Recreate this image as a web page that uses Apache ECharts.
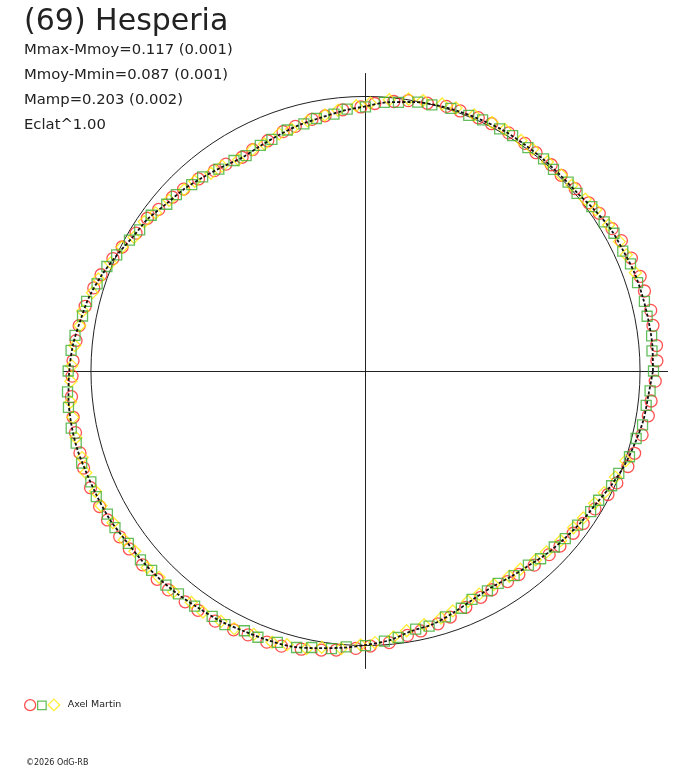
<!DOCTYPE html>
<html>
<head>
<meta charset="utf-8">
<script src="https://cdn.jsdelivr.net/npm/echarts@6/dist/echarts.min.js"></script>
<style>
  html, body { margin: 0; padding: 0; background: #fff; }
  #chart { width: 688px; height: 768px; }
</style>
</head>
<body>
<div id="chart"></div>
<script>
// polar light curve: angle = phase in degrees, radius relative to the reference circle (1.0)
const curveAngle = [0, 5, 10, 15, 20, 25, 30, 35, 40, 45, 50, 55, 60, 65, 70, 75, 80, 85, 90, 95,
    100, 105, 110, 115, 120, 125, 130, 135, 140, 145, 150, 155, 160, 165, 170, 175, 180, 185, 190, 195,
    200, 205, 210, 215, 220, 225, 230, 235, 240, 245, 250, 255, 260, 265, 270, 275, 280, 285, 290, 295,
    300, 305, 310, 315, 320, 325, 330, 335, 340, 345, 350, 355];
const curveR = [1.047, 1.049, 1.047, 1.045, 1.043, 1.036, 1.032, 1.020, 1.008, 1.006,
    1.007, 1.008, 1.010, 1.007, 1.005, 1.002, 0.995, 0.983, 0.964, 0.951,
    0.937, 0.928, 0.916, 0.905, 0.898, 0.908, 0.921, 0.936, 0.947, 0.967,
    0.978, 0.999, 1.022, 1.042, 1.055, 1.070, 1.079, 1.086, 1.089, 1.088,
    1.082, 1.079, 1.077, 1.070, 1.068, 1.066, 1.062, 1.056, 1.053, 1.046,
    1.043, 1.039, 1.025, 1.012, 0.998, 0.985, 0.962, 0.954, 0.937, 0.920,
    0.912, 0.917, 0.925, 0.938, 0.948, 0.959, 0.969, 0.987, 1.004, 1.016,
    1.028, 1.034];

const redAngle = [2, 5, 9, 12, 16, 19, 23, 27, 30, 34, 37, 41, 45, 48, 52, 55, 59, 63, 66, 70,
    73, 77, 81, 84, 88, 91, 95, 99, 102, 106, 109, 113, 117, 120, 124, 127, 131, 135, 138, 142,
    145, 149, 153, 156, 160, 163, 167, 171, 174, 178, 181, 185, 189, 192, 196, 199, 203, 207, 210, 214,
    217, 221, 225, 228, 232, 235, 239, 243, 246, 250, 253, 257, 261, 264, 268, 271, 275, 279, 282, 286,
    289, 293, 297, 300, 304, 307, 311, 315, 318, 322, 325, 329, 333, 336, 340, 343, 347, 351, 354, 358];
const redR = [1.062, 1.064, 1.060, 1.062, 1.057, 1.058, 1.052, 1.046, 1.037, 1.027,
    1.018, 1.012, 1.008, 1.011, 1.009, 1.012, 1.012, 1.011, 1.010, 1.008,
    1.008, 1.001, 0.997, 0.987, 0.975, 0.962, 0.955, 0.941, 0.937, 0.927,
    0.922, 0.911, 0.905, 0.899, 0.909, 0.914, 0.927, 0.937, 0.946, 0.956,
    0.970, 0.975, 0.995, 1.007, 1.025, 1.035, 1.048, 1.056, 1.060, 1.066,
    1.069, 1.075, 1.078, 1.080, 1.082, 1.086, 1.088, 1.087, 1.085, 1.080,
    1.077, 1.076, 1.073, 1.073, 1.067, 1.064, 1.063, 1.058, 1.052, 1.051,
    1.048, 1.040, 1.029, 1.022, 1.011, 1.002, 0.993, 0.975, 0.968, 0.958,
    0.948, 0.935, 0.925, 0.920, 0.925, 0.928, 0.937, 0.946, 0.953, 0.960,
    0.968, 0.975, 0.991, 1.002, 1.017, 1.025, 1.034, 1.043, 1.046, 1.056];

const greenAngle = [0, 4, 7, 11, 14, 18, 22, 25, 29, 32, 36, 40, 43, 47, 50, 54, 58, 61, 65, 68,
    72, 76, 79, 83, 86, 90, 94, 97, 101, 104, 108, 112, 115, 119, 122, 126, 130, 133, 137, 140,
    144, 148, 151, 155, 158, 162, 166, 169, 173, 176, 180, 184, 187, 191, 194, 198, 202, 205, 209, 212,
    216, 220, 223, 227, 230, 234, 238, 241, 245, 248, 252, 256, 259, 263, 266, 270, 274, 277, 281, 284,
    288, 292, 295, 299, 302, 306, 310, 313, 317, 320, 324, 328, 331, 335, 338, 342, 346, 349, 353, 356];
const greenR = [1.049, 1.046, 1.050, 1.045, 1.047, 1.042, 1.041, 1.034, 1.035, 1.025,
    1.019, 1.006, 1.009, 1.004, 1.009, 1.006, 1.011, 1.008, 1.009, 1.004,
    1.006, 0.999, 0.998, 0.986, 0.981, 0.962, 0.956, 0.943, 0.937, 0.928,
    0.923, 0.910, 0.907, 0.897, 0.904, 0.909, 0.923, 0.928, 0.942, 0.945,
    0.965, 0.970, 0.983, 1.000, 1.016, 1.028, 1.047, 1.050, 1.066, 1.075,
    1.083, 1.088, 1.090, 1.092, 1.086, 1.087, 1.079, 1.082, 1.075, 1.076,
    1.068, 1.070, 1.065, 1.066, 1.060, 1.059, 1.054, 1.056, 1.044, 1.046,
    1.039, 1.038, 1.026, 1.019, 1.007, 1.000, 0.986, 0.978, 0.958, 0.958,
    0.942, 0.932, 0.918, 0.916, 0.912, 0.921, 0.923, 0.935, 0.940, 0.950,
    0.955, 0.967, 0.971, 0.989, 0.995, 1.011, 1.016, 1.028, 1.030, 1.039];

const yellowAngle = [20, 24, 27, 31, 35, 38, 42, 45, 49, 53, 56, 60, 63, 67, 71, 74, 78, 81, 85, 89,
    92, 96, 99, 103, 107, 110, 114, 117, 121, 125, 128, 132, 135, 139, 143, 146, 150, 153, 157, 161,
    164, 168, 171, 175, 179, 182, 186, 189, 193, 197, 200, 204, 207, 211, 215, 218, 222, 225, 229, 233,
    236, 240, 243, 247, 251, 254, 258, 261, 265, 269, 272, 276, 279, 283, 287, 290, 294, 297, 301, 305,
    308, 312, 315, 319, 323, 326, 330, 333, 337, 341];
const yellowR = [1.046, 1.040, 1.038, 1.033, 1.024, 1.016, 1.011, 1.009, 1.010, 1.012,
    1.013, 1.016, 1.016, 1.013, 1.013, 1.012, 1.007, 1.003, 0.992, 0.976,
    0.967, 0.955, 0.944, 0.935, 0.921, 0.919, 0.905, 0.905, 0.898, 0.911,
    0.914, 0.930, 0.934, 0.948, 0.957, 0.972, 0.974, 0.995, 1.008, 1.029,
    1.035, 1.053, 1.054, 1.063, 1.070, 1.074, 1.080, 1.079, 1.082, 1.079,
    1.084, 1.077, 1.081, 1.073, 1.073, 1.066, 1.070, 1.063, 1.066, 1.055,
    1.059, 1.053, 1.053, 1.042, 1.045, 1.037, 1.034, 1.019, 1.015, 0.998,
    0.990, 0.974, 0.958, 0.948, 0.941, 0.930, 0.918, 0.912, 0.908, 0.913,
    0.916, 0.926, 0.932, 0.942, 0.949, 0.957, 0.964, 0.976, 0.989, 1.003];

const titleText = '(69) Hesperia';
const infoLines = ['Mmax-Mmoy=0.117 (0.001)', 'Mmoy-Mmin=0.087 (0.001)', 'Mamp=0.203 (0.002)', 'Eclat^1.00'];
const observer = 'Axel Martin';
const copyright = '\u00a92026 OdG-RB';

const RED = '#ff2626', GREEN = '#3fae34', YELLOW = '#ffe800';
const FONT = 'DejaVu Sans';

function polarPairs(rs, angles) {
    return rs.map((r, i) => [r, angles[i]]);
}

// close the loop of the fitted curve
const curveData = polarPairs(curveR, curveAngle);
curveData.push([curveR[0], 360]);

function markerSeries(name, symbol, size, color, rs, angles, z) {
    return {
        name: name,
        type: 'scatter',
        coordinateSystem: 'polar',
        symbol: symbol,
        symbolSize: size,
        silent: true,
        z: z,
        itemStyle: { color: 'rgba(0,0,0,0)', borderColor: color, borderWidth: 1.3 },
        data: polarPairs(rs, angles)
    };
}

function legendPart(name, icon, left, top, size, text) {
    return {
        data: [name],
        icon: icon,
        left: left,
        top: top,
        padding: 0,
        itemWidth: size,
        itemHeight: size,
        selectedMode: false,
        formatter: () => text,
        itemStyle: { color: 'rgba(0,0,0,0)', borderWidth: 1.3 },
        textStyle: { fontFamily: FONT, fontSize: 9.5, color: '#222' }
    };
}

const infoTitles = infoLines.map((t, i) => ({
    text: t,
    left: 24,
    top: 43 + i * 25,
    padding: 0,
    textStyle: { fontFamily: FONT, fontSize: 14.8, fontWeight: 'normal', color: '#222' }
}));

// hidden cartesian axes only draw the cross through the centre
const crossAxis = {
    type: 'value', min: -1, max: 1,
    axisLine: { show: true, onZero: true, lineStyle: { color: '#222', width: 1 } },
    axisTick: { show: false }, axisLabel: { show: false }, splitLine: { show: false }
};

const chart = echarts.init(document.getElementById('chart'));
chart.setOption({
    animation: false,
    backgroundColor: '#fff',
    title: [
        {
            text: titleText, left: 24, top: 7, padding: 0,
            textStyle: { fontFamily: FONT, fontSize: 30, fontWeight: 'normal', color: '#222' }
        },
        ...infoTitles,
        {
            text: copyright, left: 26, top: 759, padding: 0,
            textStyle: { fontFamily: FONT, fontSize: 8, fontWeight: 'normal', color: '#222' }
        }
    ],
    legend: [
        legendPart('Axel Martin 1', 'circle', 24, 699, 11, ''),
        legendPart('Axel Martin 2', 'rect', 37, 700.5, 8.5, ''),
        legendPart('Axel Martin 3', 'diamond', 47.5, 698.5, 11.5, ' ' + observer)
    ],
    grid: { left: 63.5, width: 604, top: 73.5, height: 595 },
    xAxis: crossAxis,
    yAxis: crossAxis,
    polar: { center: [365.5, 371], radius: 302 },
    angleAxis: {
        type: 'value', min: 0, max: 360, interval: 90,
        startAngle: 0, clockwise: false,
        axisLine: { show: false }, axisTick: { show: false }, axisLabel: { show: false },
        splitLine: { show: false }
    },
    radiusAxis: {
        type: 'value', min: 0, max: 1.1, interval: 1,
        axisLine: { show: false }, axisTick: { show: false }, axisLabel: { show: false },
        splitLine: { show: true, lineStyle: { color: ['rgba(0,0,0,0)', '#222', 'rgba(0,0,0,0)'], width: 1 } }
    },
    series: [
        markerSeries('Axel Martin 1', 'circle', 12, RED, redR, redAngle, 2),
        markerSeries('Axel Martin 3', 'diamond', 12, YELLOW, yellowR, yellowAngle, 3),
        markerSeries('Axel Martin 2', 'rect', 10, GREEN, greenR, greenAngle, 4),
        {
            type: 'line',
            coordinateSystem: 'polar',
            data: curveData,
            smooth: 0.3,
            showSymbol: false,
            silent: true,
            z: 6,
            lineStyle: { color: '#111', width: 1.8, type: [3, 2] }
        }
    ]
});
</script>
</body>
</html>
